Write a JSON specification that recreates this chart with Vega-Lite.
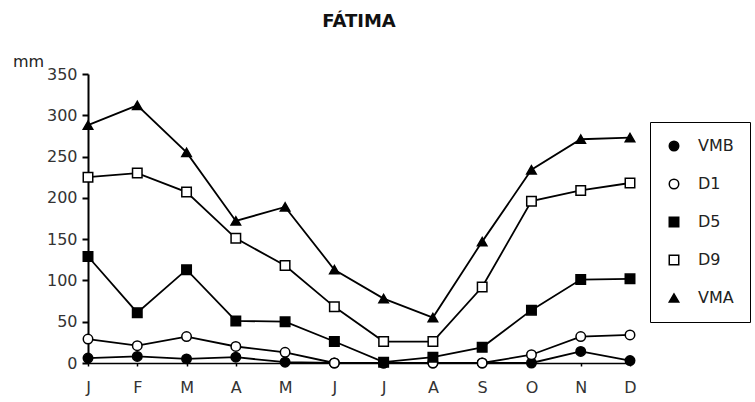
{
  "$schema": "https://vega.github.io/schema/vega-lite/v6.json",
  "width": 542,
  "height": 289,
  "autosize": {"type": "none"},
  "padding": {"left": 88, "top": 74, "right": 125, "bottom": 39},
  "background": "white",
  "title": {"text": "FÁTIMA", "font": "DejaVu Sans", "fontSize": 18, "fontWeight": "bold", "color": "#111", "offset": 22},
  "config": {"view": {"stroke": null}, "font": "DejaVu Sans",
             "legend": {"symbolStrokeColor": "black", "symbolStrokeWidth": 1.5, "strokeColor": "black"}},
  "data": {"values": [
    {"m": "Jan", "s": "VMB", "v": 6}, {"m": "Feb", "s": "VMB", "v": 8}, {"m": "Mar", "s": "VMB", "v": 5}, {"m": "Apr", "s": "VMB", "v": 7},
    {"m": "May", "s": "VMB", "v": 1}, {"m": "Jun", "s": "VMB", "v": 0}, {"m": "Jul", "s": "VMB", "v": 0}, {"m": "Aug", "s": "VMB", "v": 0},
    {"m": "Sep", "s": "VMB", "v": 0}, {"m": "Oct", "s": "VMB", "v": 0}, {"m": "Nov", "s": "VMB", "v": 14}, {"m": "Dec", "s": "VMB", "v": 3},
    {"m": "Jan", "s": "D1", "v": 29}, {"m": "Feb", "s": "D1", "v": 21}, {"m": "Mar", "s": "D1", "v": 32}, {"m": "Apr", "s": "D1", "v": 20},
    {"m": "May", "s": "D1", "v": 13}, {"m": "Jun", "s": "D1", "v": 0}, {"m": "Jul", "s": "D1", "v": 0}, {"m": "Aug", "s": "D1", "v": 0},
    {"m": "Sep", "s": "D1", "v": 0}, {"m": "Oct", "s": "D1", "v": 10}, {"m": "Nov", "s": "D1", "v": 32}, {"m": "Dec", "s": "D1", "v": 34},
    {"m": "Jan", "s": "D5", "v": 129}, {"m": "Feb", "s": "D5", "v": 61}, {"m": "Mar", "s": "D5", "v": 113}, {"m": "Apr", "s": "D5", "v": 51},
    {"m": "May", "s": "D5", "v": 50}, {"m": "Jun", "s": "D5", "v": 26}, {"m": "Jul", "s": "D5", "v": 1}, {"m": "Aug", "s": "D5", "v": 7},
    {"m": "Sep", "s": "D5", "v": 19}, {"m": "Oct", "s": "D5", "v": 64}, {"m": "Nov", "s": "D5", "v": 101}, {"m": "Dec", "s": "D5", "v": 102},
    {"m": "Jan", "s": "D9", "v": 225}, {"m": "Feb", "s": "D9", "v": 230}, {"m": "Mar", "s": "D9", "v": 207}, {"m": "Apr", "s": "D9", "v": 151},
    {"m": "May", "s": "D9", "v": 118}, {"m": "Jun", "s": "D9", "v": 68}, {"m": "Jul", "s": "D9", "v": 26}, {"m": "Aug", "s": "D9", "v": 26},
    {"m": "Sep", "s": "D9", "v": 92}, {"m": "Oct", "s": "D9", "v": 196}, {"m": "Nov", "s": "D9", "v": 209}, {"m": "Dec", "s": "D9", "v": 218},
    {"m": "Jan", "s": "VMA", "v": 288}, {"m": "Feb", "s": "VMA", "v": 312}, {"m": "Mar", "s": "VMA", "v": 255}, {"m": "Apr", "s": "VMA", "v": 172},
    {"m": "May", "s": "VMA", "v": 189}, {"m": "Jun", "s": "VMA", "v": 113}, {"m": "Jul", "s": "VMA", "v": 78}, {"m": "Aug", "s": "VMA", "v": 55},
    {"m": "Sep", "s": "VMA", "v": 147}, {"m": "Oct", "s": "VMA", "v": 234}, {"m": "Nov", "s": "VMA", "v": 271}, {"m": "Dec", "s": "VMA", "v": 273}
  ]},
  "encoding": {
    "x": {
      "field": "m", "type": "ordinal",
      "sort": ["Jan","Feb","Mar","Apr","May","Jun","Jul","Aug","Sep","Oct","Nov","Dec"],
      "scale": {"type": "point", "padding": 0},
      "axis": {"title": null, "labelExpr": "substring(datum.label,0,1)", "labelAngle": 0, "domainColor": "black", "domainWidth": 1.5,
               "tickColor": "black", "tickSize": 3, "tickWidth": 1.5, "labelFontSize": 16, "labelFont": "DejaVu Sans", "labelPadding": 13, "labelColor": "#333"}
    },
    "y": {
      "field": "v", "type": "quantitative",
      "scale": {"domain": [0, 350], "nice": false},
      "axis": {"title": "mm", "titleAngle": 0, "titleX": -60, "titleY": -8, "titleAlign": "center", "titleBaseline": "alphabetic",
               "titleFont": "DejaVu Sans", "titleFontSize": 16, "titleFontWeight": "normal", "titleColor": "#222",
               "values": [0, 50, 100, 150, 200, 250, 300, 350], "grid": false, "domainColor": "black", "domainWidth": 2,
               "tickColor": "black", "tickWidth": 2, "tickSize": 6, "labelFontSize": 16, "labelFont": "DejaVu Sans", "labelColor": "#333", "labelPadding": 5}
    }
  },
  "layer": [
    {"mark": {"type": "line", "stroke": "black", "strokeWidth": 1.8}, "encoding": {"detail": {"field": "s"}}},
    {
      "mark": {"type": "point", "filled": true, "strokeWidth": 1.5, "opacity": 1, "size": 90},
      "encoding": {
        "shape": {"field": "s", "type": "nominal",
                  "scale": {"domain": ["VMB","D1","D5","D9","VMA"], "range": ["circle","circle","square","square","triangle-up"]},
                  "legend": {"orient": "none", "legendX": 562, "legendY": 48, "title": null, "padding": 16, "strokeColor": "black", "fillColor": "white",
                             "rowPadding": 22, "labelFontSize": 16, "labelFont": "DejaVu Sans", "labelColor": "#222", "labelOffset": 16,
                             "symbolSize": 90, "symbolStrokeWidth": 1.5}},
        "fill": {"field": "s", "type": "nominal",
                 "scale": {"domain": ["VMB","D1","D5","D9","VMA"], "range": ["black","white","black","white","black"]},
                 "legend": {"orient": "none", "legendX": 562, "legendY": 48, "title": null, "padding": 16, "strokeColor": "black", "fillColor": "white",
                             "rowPadding": 22, "labelFontSize": 16, "labelFont": "DejaVu Sans", "labelColor": "#222", "labelOffset": 16,
                             "symbolSize": 90, "symbolStrokeWidth": 1.5}},
        "stroke": {"field": "s", "type": "nominal",
                 "scale": {"domain": ["VMB","D1","D5","D9","VMA"], "range": ["black","black","black","black","black"]},
                 "legend": {"orient": "none", "legendX": 562, "legendY": 48, "title": null, "padding": 16, "strokeColor": "black", "fillColor": "white",
                             "rowPadding": 22, "labelFontSize": 16, "labelFont": "DejaVu Sans", "labelColor": "#222", "labelOffset": 16,
                             "symbolSize": 90, "symbolStrokeWidth": 1.5}}
      }
    }
  ]
}
